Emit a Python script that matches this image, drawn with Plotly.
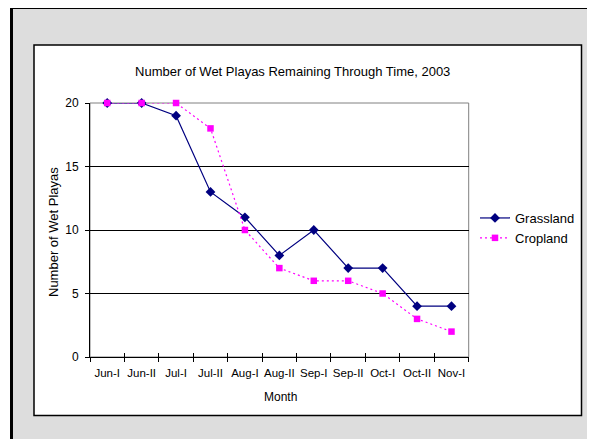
import plotly.graph_objects as go

months = ["Jun-I", "Jun-II", "Jul-I", "Jul-II", "Aug-I", "Aug-II",
          "Sep-I", "Sep-II", "Oct-I", "Oct-II", "Nov-I"]
grassland = [20, 20, 19, 13, 11, 8, 10, 7, 7, 4, 4]
cropland = [20, 20, 20, 18, 10, 7, 6, 6, 5, 3, 2]
y_ticks = [0, 5, 10, 15, 20]

# the page body has an 8px margin on every side: size the figure so the
# page is exactly the window size, and work in window pixel coordinates
OFF = 8
W, H = 595 - 2 * OFF, 447 - 2 * OFF
# plot-area box in window pixels
PL, PR, PT, PB = 90, 468.7, 103, 357


def px(x):
    return (x - OFF) / W


def py(y):
    return 1 - (y - OFF) / H


FONT = "Liberation Sans, Arial, sans-serif"

fig = go.Figure()
fig.add_trace(go.Scatter(
    x=months, y=grassland, name="Grassland", mode="lines+markers",
    line=dict(color="#000080", width=1.2),
    marker=dict(symbol="diamond", size=7.5, color="#000080"),
    cliponaxis=False,
))
fig.add_trace(go.Scatter(
    x=months, y=cropland, name="Cropland", mode="lines+markers",
    line=dict(color="#FF00FF", width=1.2, dash="2px,3px"),
    marker=dict(symbol="square", size=6.5, color="#FF00FF"),
    cliponaxis=False,
))
# invisible helper trace so the overlay axes (inside tick halves) render
fig.add_trace(go.Scatter(x=months, y=grassland, xaxis="x2", yaxis="y2",
                         mode="none", showlegend=False, hoverinfo="skip"))

fig.update_layout(
    template="none",
    width=W, height=H,
    autosize=False,
    margin=dict(l=0, r=0, t=0, b=0, pad=0, autoexpand=False),
    paper_bgcolor="white",
    plot_bgcolor="white",
    font=dict(family=FONT, color="black", size=12),
    title=dict(text="Number of Wet Playas Remaining Through Time, 2003",
               x=px(292.7), xanchor="center", y=py(71), yanchor="middle",
               xref="paper", yref="paper",
               font=dict(size=13, family=FONT, color="black")),
    xaxis=dict(domain=[px(PL), px(PR)], type="category",
               categoryorder="array", categoryarray=months,
               range=[-0.5, len(months) - 0.5], automargin=False,
               showline=True, linecolor="black", linewidth=1,
               ticks="outside", ticklen=4, tickcolor="black", tickwidth=1,
               tickson="boundaries", showgrid=False, tickangle=0,
               ticklabelstandoff=5,
               tickfont=dict(size=11.5, family=FONT), anchor="y"),
    yaxis=dict(domain=[py(PB), py(PT)], range=[0, 20], automargin=False,
               tickvals=y_ticks,
               showline=True, linecolor="black", linewidth=1,
               ticks="outside", ticklen=4, tickcolor="black", tickwidth=1,
               showgrid=True, gridcolor="black", gridwidth=1,
               zeroline=False, ticklabelstandoff=4,
               tickfont=dict(size=12, family=FONT), anchor="x"),
    xaxis2=dict(domain=[px(PL), px(PR)], type="category", overlaying="x",
                categoryorder="array", categoryarray=months, automargin=False,
                range=[-0.5, len(months) - 0.5], anchor="y2", side="bottom",
                ticks="inside", ticklen=4, tickcolor="black", tickwidth=1,
                tickson="boundaries", showticklabels=False,
                showgrid=False, showline=False, zeroline=False),
    yaxis2=dict(domain=[py(PB), py(PT)], range=[0, 20], overlaying="y",
                anchor="x2", side="left", tickvals=y_ticks, automargin=False,
                ticks="inside", ticklen=4, tickcolor="black", tickwidth=1,
                showticklabels=False, showgrid=False, showline=False,
                zeroline=False),
    legend=dict(x=px(475), xanchor="left", y=py(203), yanchor="top",
                bgcolor="rgba(0,0,0,0)", borderwidth=0, tracegroupgap=0,
                font=dict(size=13, family=FONT, color="black")),
    showlegend=True,
)

# chart frames
fig.add_shape(type="rect", xref="paper", yref="paper",
              x0=px(11.5), x1=px(640), y0=py(7.5), y1=py(480),
              fillcolor="#DDDDDD", line=dict(color="black", width=3),
              layer="below")
fig.add_shape(type="rect", xref="paper", yref="paper",
              x0=px(34), x1=px(581.5), y0=py(45), y1=py(415.5),
              fillcolor="white", line=dict(color="black", width=1.5),
              layer="below")
# plot area border (gray)
fig.add_shape(type="rect", xref="paper", yref="paper",
              x0=px(PL), x1=px(PR), y0=py(PB), y1=py(PT),
              line=dict(color="#808080", width=1), layer="between")

fig.add_annotation(text="Month", xref="paper", yref="paper",
                   x=px(280), y=py(396.5), xanchor="center", yanchor="middle",
                   showarrow=False, font=dict(size=12, family=FONT))
fig.add_annotation(text="Number of Wet Playas", xref="paper", yref="paper",
                   x=px(53), y=py(232), xanchor="center", yanchor="middle",
                   textangle=-90, showarrow=False,
                   font=dict(size=13, family=FONT))

fig.write_html("out.html")
